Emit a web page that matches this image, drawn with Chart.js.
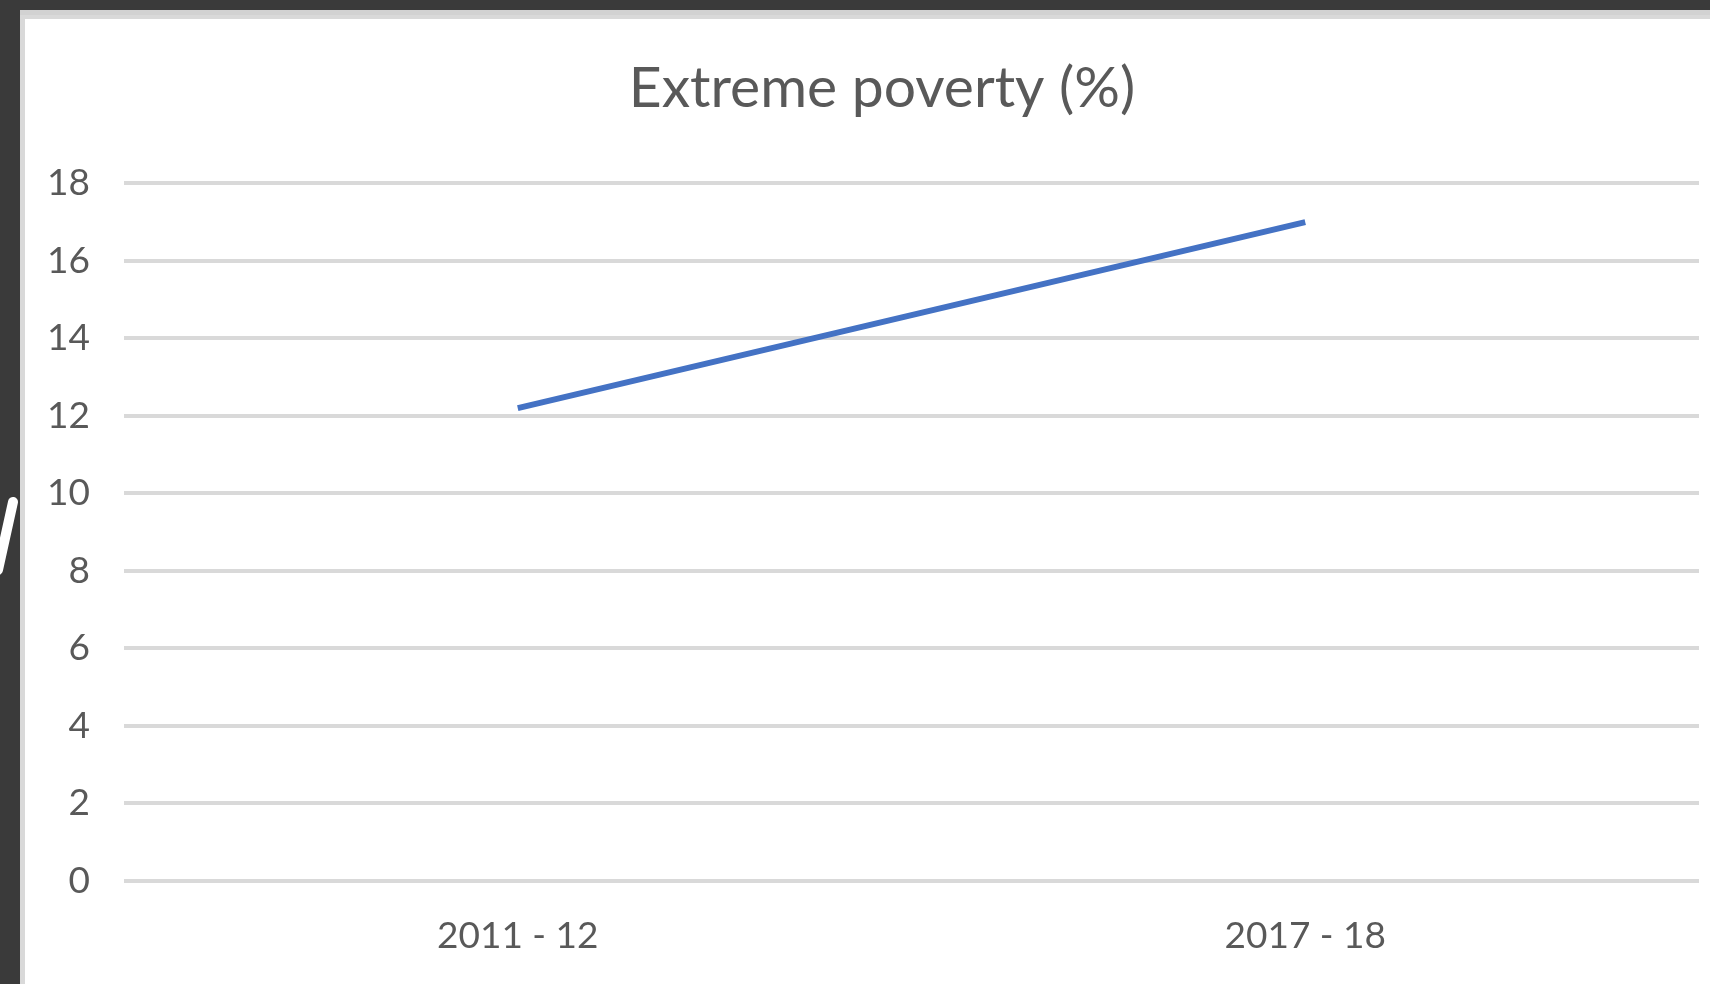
<!DOCTYPE html>
<html>
<head>
<meta charset="utf-8">
<title>Extreme poverty (%)</title>
<script src="https://cdn.jsdelivr.net/npm/chart.js@4"></script>
<style>
    html, body {
        margin: 0;
        padding: 0;
        width: 1710px;
        height: 984px;
        overflow: hidden;
        background: #3a3a3a;
    }
    .card {
        position: absolute;
        left: 20px;
        top: 10px;
        width: 1690px;
        height: 974px;
        background: #d9d9d9;
        border-top: 5px solid #d2d2d2;
        box-sizing: border-box;
    }
    .inner {
        position: absolute;
        left: 25px;
        top: 19px;
        width: 1685px;
        height: 965px;
        background: #ffffff;
    }
    .stroke {
        position: absolute;
        left: 0;
        top: 480px;
    }
</style>
</head>
<body>
<div class="card"></div>
<div class="inner">
    <canvas id="chart" width="1685" height="965"></canvas>
</div>
<svg class="stroke" width="20" height="100">
    <path d="M13 22 L-2 90" stroke="#ffffff" stroke-width="10" stroke-linecap="round" fill="none"/>
</svg>
<script>
// Chart data
const categories = ['2011 - 12', '2017 - 18'];
const povertyValues = [12.2, 17.0];
const yTicks = [0, 2, 4, 6, 8, 10, 12, 14, 16, 18];

const textColor = '#595959';
const fontFamily = 'Lato, "Open Sans", sans-serif';

// Shift the title box a little so its centre sits where the original has it
const titleShift = {
    id: 'titleShift',
    afterLayout(chart) {
        if (chart.titleBlock) {
            chart.titleBlock.left += 40;
        }
    }
};

// Create chart
const ctx = document.getElementById('chart').getContext('2d');
const chart = new Chart(ctx, {
    type: 'line',
    data: {
        labels: categories,
        datasets: [{
            label: 'Extreme poverty (%)',
            data: povertyValues,
            borderColor: '#4472C4',
            backgroundColor: 'transparent',
            borderWidth: 6,
            pointRadius: 0,
            fill: false,
            tension: 0
        }]
    },
    options: {
        responsive: false,
        animation: false,
        layout: {
            padding: { top: 0, right: 11, bottom: 0, left: 0 }
        },
        plugins: {
            legend: { display: false },
            tooltip: { enabled: false },
            title: {
                display: true,
                text: 'Extreme poverty (%)',
                color: textColor,
                font: { family: fontFamily, size: 57, weight: 'normal' },
                padding: { top: 35, bottom: 61 }
            }
        },
        scales: {
            x: {
                offset: true,
                grid: { display: false, drawTicks: false },
                border: { display: false },
                ticks: {
                    color: textColor,
                    font: { family: fontFamily, size: 37 },
                    padding: 33,
                    maxRotation: 0
                },
                afterFit: function(scale) {
                    scale.height = 103;
                }
            },
            y: {
                min: 0,
                max: 18,
                afterBuildTicks: function(scale) {
                    scale.ticks = yTicks.map(v => ({ value: v }));
                },
                grid: { color: '#d9d9d9', lineWidth: 4, drawTicks: false },
                border: { display: false },
                ticks: {
                    color: textColor,
                    font: { family: fontFamily, size: 37 },
                    padding: 34
                },
                afterFit: function(scale) {
                    scale.width = 99;
                }
            }
        }
    },
    plugins: [titleShift]
});
</script>
</body>
</html>
